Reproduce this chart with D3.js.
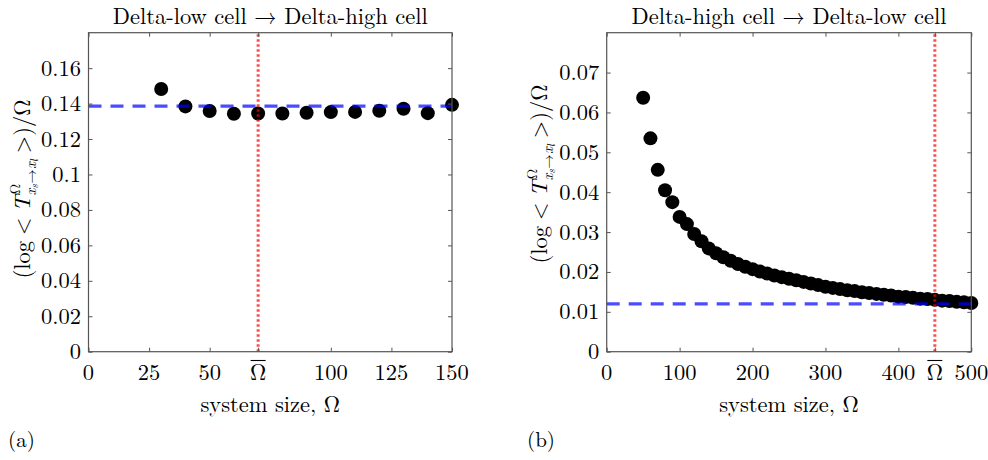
<!DOCTYPE html>
<html>
<head>
<meta charset="utf-8">
<script src="https://cdn.jsdelivr.net/npm/d3@7"></script>
<style>
  html, body { margin: 0; padding: 0; background: #fff; }
  svg { display: block; }
</style>
</head>
<body>
<svg id="fig" width="988" height="460"></svg>
<script>
// Panel (a): Delta-low -> Delta-high switching
const sizesA = [30, 40, 50, 60, 70, 80, 90, 100, 110, 120, 130, 140, 150];
const valuesA = [0.1482, 0.1384, 0.1358, 0.1343, 0.1344, 0.1344, 0.1348, 0.1352, 0.1353, 0.1360, 0.1371, 0.1346, 0.1393];
const baselineA = 0.1386;
const omegaBarA = 70;
const xTicksA = [0, 25, 50, 70, 100, 125, 150];
const yTicksA = [0, 0.02, 0.04, 0.06, 0.08, 0.1, 0.12, 0.14, 0.16];

// Panel (b): Delta-high -> Delta-low switching
const sizesB = [50, 60, 70, 80, 90, 100, 110, 120, 130, 140, 150, 160, 170, 180, 190, 200,
  210, 220, 230, 240, 250, 260, 270, 280, 290, 300, 310, 320, 330, 340, 350, 360, 370, 380,
  390, 400, 410, 420, 430, 440, 450, 460, 470, 480, 490, 500];
const valuesB = [0.0637, 0.0535, 0.0456, 0.0405, 0.0375, 0.0338, 0.0320, 0.0295, 0.0277, 0.0259,
  0.0247, 0.0237, 0.0228, 0.0220, 0.0213, 0.0207, 0.0201, 0.0196, 0.0191, 0.0187, 0.0183,
  0.0179, 0.0175, 0.0171, 0.0167, 0.0163, 0.0160, 0.0157, 0.0154, 0.0152, 0.0149, 0.0147,
  0.0145, 0.0143, 0.0141, 0.0138, 0.0137, 0.0135, 0.0133, 0.0132, 0.0130, 0.0128, 0.0127,
  0.0125, 0.0124, 0.0122];
const baselineB = 0.012;
const omegaBarB = 450;
const xTicksB = [0, 100, 200, 300, 400, 450, 500];
const yTicksB = [0, 0.01, 0.02, 0.03, 0.04, 0.05, 0.06, 0.07];

const titles = ["Delta-low cell \u2192 Delta-high cell", "Delta-high cell \u2192 Delta-low cell"];

const FONT = "'Latin Modern Roman'";
const svg = d3.select("#fig");

const panels = [
  { sizes: sizesA, values: valuesA, baseline: baselineA, omegaBar: omegaBarA,
    xTicks: xTicksA, yTicks: yTicksA, xMax: 150, yMax: 0.18, title: titles[0], tag: "(a)",
    left: 88.5, right: 452, labelX: 30, labelY: 189, tagX: 8 },
  { sizes: sizesB, values: valuesB, baseline: baselineB, omegaBar: omegaBarB,
    xTicks: xTicksB, yTicks: yTicksB, xMax: 500, yMax: 0.08, title: titles[1], tag: "(b)",
    left: 606.7, right: 971.3, labelX: 547, labelY: 174, tagX: 527 }
];

const plotTop = 32.7, plotBottom = 351.7;
const tickLen = 4;
const fontSize = 22.5;

function addText(parent, s, size) {
  return parent.append("text")
    .style("font-family", FONT)
    .style("font-size", size + "px")
    .attr("fill", "#000")
    .text(s);
}

panels.forEach(p => {
  const x = d3.scaleLinear().domain([0, p.xMax]).range([p.left, p.right]);
  const y = d3.scaleLinear().domain([0, p.yMax]).range([plotBottom, plotTop]);
  const g = svg.append("g");

  // data points
  g.append("g").selectAll("circle")
    .data(p.sizes.map((s, i) => [s, p.values[i]]))
    .join("circle")
    .attr("cx", d => x(d[0]))
    .attr("cy", d => y(d[1]))
    .attr("r", 7)
    .attr("fill", "#000");

  // large-size limit (dashed) and critical size (dotted)
  g.append("line")
    .attr("x1", x(0)).attr("x2", x(p.xMax))
    .attr("y1", y(p.baseline)).attr("y2", y(p.baseline))
    .attr("stroke", "#0000ff").attr("stroke-opacity", 0.7)
    .attr("stroke-width", 3.2).attr("stroke-dasharray", "13,9");
  g.append("line")
    .attr("x1", x(p.omegaBar)).attr("x2", x(p.omegaBar))
    .attr("y1", y(0)).attr("y2", y(p.yMax))
    .attr("stroke", "#ff0000").attr("stroke-opacity", 0.7)
    .attr("stroke-width", 3).attr("stroke-dasharray", "2.5,2.5");

  // frame
  g.append("rect")
    .attr("x", p.left).attr("y", plotTop)
    .attr("width", p.right - p.left).attr("height", plotBottom - plotTop)
    .attr("fill", "none").attr("stroke", "#555").attr("stroke-width", 1.2);

  // inward ticks on all four sides
  const bottomAxis = d3.axisBottom(x).tickValues(p.xTicks).tickSize(-tickLen).tickFormat("");
  const topAxis = d3.axisTop(x).tickValues(p.xTicks).tickSize(-tickLen).tickFormat("");
  const leftAxis = d3.axisLeft(y).tickValues(p.yTicks).tickSize(-tickLen).tickFormat("");
  const rightAxis = d3.axisRight(y).tickValues(p.yTicks).tickSize(-tickLen).tickFormat("");
  [[bottomAxis, `translate(0,${plotBottom})`], [topAxis, `translate(0,${plotTop})`],
   [leftAxis, `translate(${p.left},0)`], [rightAxis, `translate(${p.right},0)`]]
    .forEach(([ax, tr]) => {
      const a = g.append("g").attr("transform", tr).call(ax);
      a.select(".domain").remove();
      a.selectAll(".tick line").attr("stroke", "#555").attr("stroke-width", 1);
    });

  // x tick labels
  p.xTicks.forEach(v => {
    const isBar = v === p.omegaBar;
    addText(g, isBar ? "\u03A9" : String(v), fontSize)
      .attr("x", x(v)).attr("y", 380)
      .attr("text-anchor", "middle");
    if (isBar) {
      g.append("line")
        .attr("x1", x(v) - 7.5).attr("x2", x(v) + 7.5)
        .attr("y1", 360.5).attr("y2", 360.5)
        .attr("stroke", "#000").attr("stroke-width", 1.1);
    }
  });

  // y tick labels
  p.yTicks.forEach(v => {
    addText(g, String(+v.toFixed(2)), fontSize)
      .attr("x", p.left - 7.5).attr("y", y(v) + 7.5)
      .attr("text-anchor", "end");
  });

  // title
  addText(g, p.title, fontSize)
    .attr("x", (p.left + p.right) / 2).attr("y", 24)
    .attr("text-anchor", "middle");

  // x label
  addText(g, "system size, \u03A9", fontSize)
    .attr("x", (p.left + p.right) / 2).attr("y", 412)
    .attr("text-anchor", "middle");

  // panel tag
  addText(g, p.tag, 21).attr("x", p.tagX).attr("y", 447);

  // y label, built piece by piece so super/subscripts can stack
  const lab = g.append("g").attr("transform", `translate(${p.labelX},${p.labelY}) rotate(-90)`);
  const pieces = [];
  let cursor = 0;
  const put = (s, size, dy, italic, gapAfter) => {
    const t = addText(lab, s, size)
      .attr("x", cursor).attr("y", dy)
      .style("font-style", italic ? "italic" : "normal");
    pieces.push(t);
    const w = t.node().getComputedTextLength();
    cursor += w + (gapAfter || 0);
    return w;
  };
  put("(", 22.5, 0, false, 0);
  put("log", 22.5, 0, false, 6);
  put("<", 22.5, 0, false, 6);
  put("T", 22.5, 0, true, 1);
  const supStart = cursor;
  const wSup = put("\u03A9", 14.5, -10.5, false);
  cursor = supStart - 1;
  put("x", 14.5, 5.5, true);
  put("s", 10.5, 8, true, 0.5);
  put("\u2192", 14.5, 5.5, false, 0.5);
  put("x", 14.5, 5.5, true);
  put("l", 10.5, 8, true);
  cursor = Math.max(cursor, supStart + wSup) + 6;
  put(">", 22.5, 0, false, 0);
  put(")/\u03A9", 22.5, 0, false);
  const total = cursor;
  pieces.forEach(t => t.attr("x", +t.attr("x") - total / 2));
});
</script>
</body>
</html>
